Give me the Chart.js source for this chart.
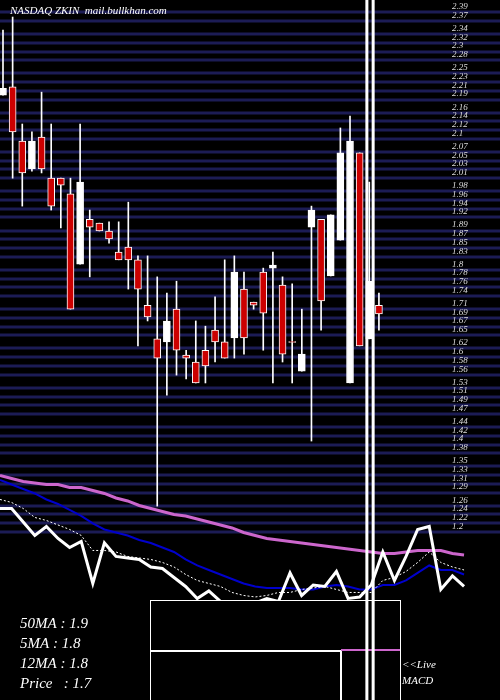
<!DOCTYPE html>
<html><head><meta charset="utf-8">
<script src="https://cdn.jsdelivr.net/npm/chart.js@4"></script>
<style>html,body{margin:0;padding:0;background:#000}canvas{display:block}</style>
</head><body><canvas id="c" width="500" height="700" style="width:500px;height:700px"></canvas>
<script>
const opens  = [2.200,2.219,2.095,2.031,2.104,2.010,2.010,1.974,1.813,1.916,1.907,1.889,1.841,1.852,1.823,1.719,1.642,1.635,1.710,1.605,1.589,1.616,1.662,1.635,1.644,1.756,1.726,1.795,1.804,1.765,1.636,1.568,1.898,1.916,1.786,1.868,1.541,2.068,1.642,1.719];
const closes = [2.216,2.116,2.022,2.095,2.031,1.946,1.994,1.710,2.001,1.898,1.889,1.871,1.823,1.823,1.756,1.692,1.598,1.683,1.616,1.598,1.541,1.580,1.635,1.598,1.795,1.644,1.719,1.701,1.811,1.607,1.634,1.607,1.937,1.729,1.926,2.068,2.095,1.626,1.774,1.699];
const highs  = [2.349,2.379,2.134,2.116,2.207,2.134,2.010,2.010,2.134,1.937,1.907,1.910,1.910,1.955,1.832,1.832,1.784,1.747,1.774,1.616,1.683,1.671,1.738,1.823,1.832,1.795,1.726,1.804,1.841,1.784,1.768,1.710,1.946,1.916,1.926,2.125,2.152,2.068,2.001,1.747];
const lows   = [2.200,2.010,1.946,2.026,2.022,1.937,1.896,1.710,1.813,1.784,1.889,1.861,1.823,1.756,1.626,1.683,1.259,1.513,1.559,1.550,1.541,1.541,1.589,1.598,1.598,1.607,1.710,1.616,1.541,1.589,1.541,1.568,1.408,1.662,1.786,1.868,1.541,1.626,1.642,1.662];
const priceLine = [2.21,2.21,2.12,2.03,2.09,2.01,1.95,1.99,1.71,1.98,1.89,1.88,1.87,1.82,1.81,1.75,1.69,1.61,1.66,1.59,1.57,1.57,1.58,1.61,1.59,1.78,1.63,1.70,1.69,1.79,1.61,1.62,1.70,1.92,1.73,1.89,2.07,2.09,1.67,1.76,1.69];
const ma5  = [2.27,2.25,2.21,2.15,2.13,2.10,2.07,2.03,1.93,1.93,1.92,1.89,1.88,1.87,1.85,1.82,1.77,1.73,1.71,1.69,1.65,1.63,1.62,1.63,1.65,1.65,1.67,1.68,1.69,1.67,1.65,1.65,1.65,1.73,1.75,1.79,1.85,1.92,1.85,1.82,1.80];
const ma12 = [2.40,2.37,2.34,2.31,2.27,2.24,2.20,2.16,2.11,2.07,2.05,2.03,2.00,1.98,1.95,1.92,1.87,1.83,1.80,1.77,1.74,1.71,1.69,1.68,1.68,1.68,1.67,1.67,1.69,1.70,1.69,1.67,1.67,1.70,1.70,1.73,1.78,1.83,1.80,1.80,1.77];
const ma50 = [2.43,2.41,2.39,2.38,2.37,2.37,2.35,2.35,2.33,2.31,2.28,2.26,2.23,2.21,2.19,2.17,2.16,2.14,2.12,2.10,2.08,2.05,2.03,2.01,2.00,1.99,1.98,1.97,1.96,1.95,1.94,1.93,1.92,1.91,1.91,1.92,1.93,1.93,1.93,1.91,1.90];
const tickLabels = [2.39,2.37,2.34,2.32,2.30,2.28,2.25,2.23,2.21,2.19,2.16,2.14,2.12,2.10,2.07,2.05,2.03,2.01,1.98,1.96,1.94,1.92,1.89,1.87,1.85,1.83,1.80,1.78,1.76,1.74,1.71,1.69,1.67,1.65,1.62,1.60,1.58,1.56,1.53,1.51,1.49,1.47,1.44,1.42,1.40,1.38,1.35,1.33,1.31,1.29,1.26,1.24,1.22,1.20];
const legendLines = ["50MA : 1.9","5MA : 1.8","12MA : 1.8","Price   : 1.7"];
const title = "NASDAQ ZKIN  mail.bullkhan.com";

const up = opens.map((o,i)=>closes[i]>=o);
const wickData = highs.map((h,i)=>({x:i,y:[lows[i],h]}));
const bodyData = opens.map((o,i)=>({x:i,y:[Math.min(o,closes[i]),Math.max(o,closes[i])]}));
const lineData = a=>a.map((v,i)=>({x:i,y:v}));
const SERIF='"Liberation Serif","DejaVu Serif",serif';

const grid = {
  id:'grid',
  beforeDatasetsDraw(ch){
    const c=ch.ctx, ys=ch.scales.y;
    c.save(); c.strokeStyle='#1c1c55'; c.lineWidth=3;
    tickLabels.forEach(v=>{const y=Math.round(ys.getPixelForValue(v));c.beginPath();c.moveTo(0,y);c.lineTo(500,y);c.stroke();});
    c.restore();
  },
  afterDatasetsDraw(ch){
    const c=ch.ctx, xs=ch.scales.x, ys=ch.scales.y;
    c.save();
    c.fillStyle='#ddd'; c.font='italic 9px '+SERIF; c.textBaseline='bottom';
    tickLabels.forEach(v=>c.fillText(String(v),452,ys.getPixelForValue(v)-1));
    c.fillStyle='#000'; c.fillRect(150,600,250,100);
    c.strokeStyle='#fff'; c.lineWidth=1; c.strokeRect(150.5,600.5,250,110);
    c.lineWidth=2; c.beginPath(); c.moveTo(151,651); c.lineTo(341,651); c.lineTo(341,700); c.stroke();
    c.strokeStyle='#cc66cc'; c.beginPath(); c.moveTo(341,650); c.lineTo(400,650); c.stroke();
    const xa=xs.getPixelForValue(37.75), xb=xs.getPixelForValue(38.4);
    c.strokeStyle='#fff'; c.lineWidth=3;
    c.beginPath(); c.moveTo(xa,0); c.lineTo(xa,700); c.moveTo(xb,0); c.lineTo(xb,700); c.stroke();
    c.fillStyle='#fff'; c.textBaseline='middle';
    c.font='italic 11px '+SERIF; c.fillText(title,10,11);
    c.font='italic 15px '+SERIF;
    legendLines.forEach((t,i)=>c.fillText(t,20,624+i*20));
    c.font='italic 11px '+SERIF;
    c.fillText('<<Live',402,665); c.fillText('MACD',402,681);
    c.restore();
  }
};

new Chart(document.getElementById('c'),{
  type:'bar',
  data:{datasets:[
    {type:'line',data:lineData(ma50),xAxisID:'x2',yAxisID:'y2',borderColor:'#cc66cc',borderWidth:3,pointRadius:0,order:5},
    {type:'line',data:lineData(ma12),xAxisID:'x2',yAxisID:'y2',borderColor:'#0000cc',borderWidth:2,pointRadius:0,order:4},
    {type:'line',data:lineData(ma5),xAxisID:'x2',yAxisID:'y2',borderColor:'#fff',borderWidth:1,borderDash:[2,2],pointRadius:0,order:3},
    {type:'line',data:lineData(priceLine),xAxisID:'x2',yAxisID:'y2',borderColor:'#fff',borderWidth:3,pointRadius:0,order:2},
    {data:wickData,backgroundColor:'#fff',barThickness:1,grouped:false,order:1},
    {data:bodyData,backgroundColor:up.map(u=>u?'#fff':'#cc0000'),borderColor:'#fff',borderWidth:1,borderSkipped:false,barThickness:7,grouped:false,order:0}
  ]},
  options:{
    animation:false,responsive:false,devicePixelRatio:1,
    layout:{padding:0},
    plugins:{legend:{display:false},tooltip:{enabled:false}},
    scales:{
      x:{type:'linear',min:-0.311,max:51.56,display:false,offset:false},
      x2:{type:'linear',min:0,max:43.1,display:false,offset:false},
      y:{min:0.815,max:2.418,display:false},
      y2:{min:0.933,max:5.6,display:false}
    }
  },
  plugins:[grid]
});
</script></body></html>
